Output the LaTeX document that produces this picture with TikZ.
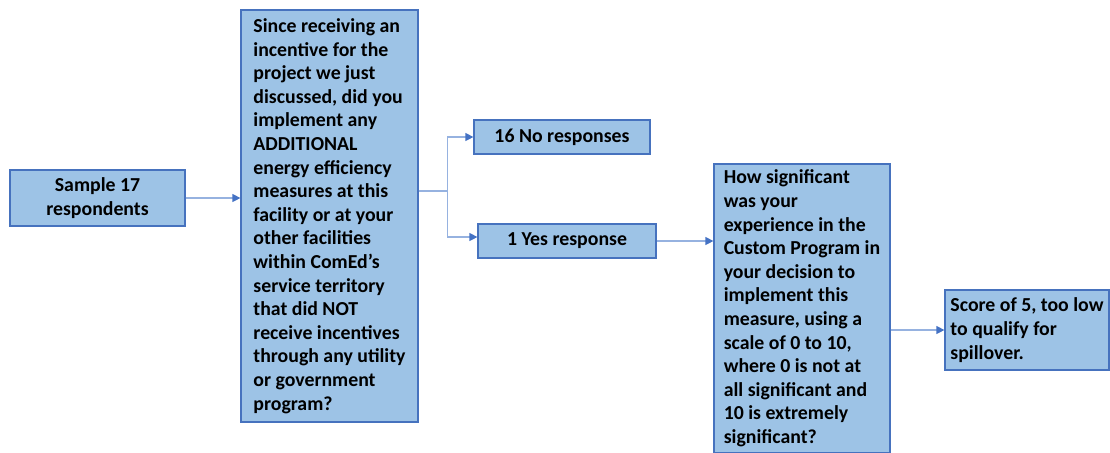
\documentclass[tikz,border=0pt]{standalone}
\usepackage{fontspec}
\setmainfont{Carlito}
\usepackage{xcolor}
\usetikzlibrary{arrows.meta,positioning}
\definecolor{boxfill}{RGB}{157,195,230}
\definecolor{boxline}{RGB}{70,114,190}
\definecolor{linkline}{RGB}{150,178,224}
\definecolor{tipblue}{RGB}{68,114,196}

\begin{document}
\begin{tikzpicture}[
  x=0.5pt, y=-0.5pt,
  font=\fontsize{9.9}{11.8}\selectfont\bfseries,
  st/.style={draw=boxline, fill=boxfill, line width=0.6pt, align=left, inner xsep=2pt, inner ysep=3pt},
  arr/.style={draw=linkline, line width=0.6pt, -{Triangle[length=4pt, width=4pt, color=tipblue, fill=tipblue]}},
]
\useasboundingbox (0,0) rectangle (1110,452);
\node[st, align=center, minimum width=87.5pt, minimum height=28pt] (sample) at (97.5,198) {Sample 17\\respondents};
\node[st, minimum width=88.5pt, minimum height=206pt] (quest) at (329.5,216) {Since receiving an\\incentive for the\\project we just\\discussed, did you\\implement any\\ADDITIONAL\\energy efficiency\\measures at this\\facility or at your\\other facilities\\within ComEd’s\\service territory\\that did NOT\\receive incentives\\through any utility\\or government\\program?};
\node[st, align=center, minimum width=88pt, minimum height=17pt] (no) at (562,137) {16 No responses};
\node[st, align=center, minimum width=89pt, minimum height=17pt] (yes) at (567,241) {1 Yes response};
\node[st, minimum width=88pt, minimum height=143pt] (how) at (802,308.5) {How significant\\was your\\experience in the\\Custom Program in\\your decision to\\implement this\\measure, using a\\scale of 0 to 10,\\where 0 is not at\\all significant and\\10 is extremely\\significant?};
\node[st, minimum width=82pt, minimum height=40pt] (score) at (1027,330) {Score of 5, too low\\to qualify for\\spillover.};
% links
\draw[arr] (sample) -- (sample -| quest.west);
\draw[arr] ([yshift=12.5pt]quest.east) -- ++(14.5pt,0) |- (no.west);
\draw[arr] ([yshift=12.5pt]quest.east) -- ++(14.5pt,0) |- ([yshift=2pt]yes.west);
\draw[arr] (yes) -- (yes -| how.west);
\draw[arr] (score -| how.east) -- (score);
\end{tikzpicture}
\end{document}
